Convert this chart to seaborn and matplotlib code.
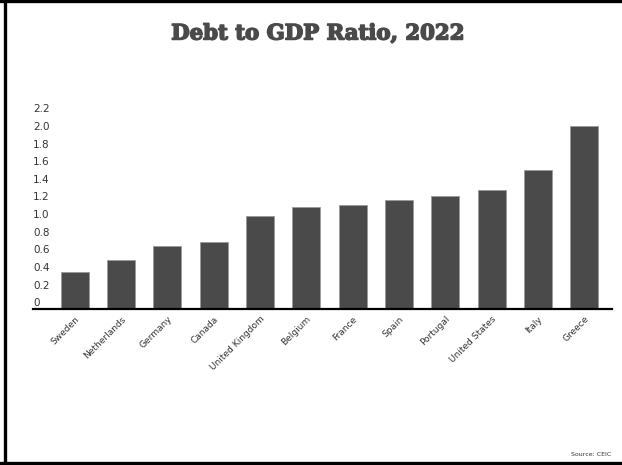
import pandas as pd
import matplotlib
matplotlib.use("Agg")
import matplotlib.pyplot as plt
import matplotlib.patheffects as pe
import seaborn as sns
from matplotlib.lines import Line2D

# data
countries = ['Sweden', 'Netherlands', 'Germany', 'Canada', 'United Kingdom', 'Belgium',
             'France', 'Spain', 'Portugal', 'United States', 'Italy', 'Greece']
ratios = [0.34, 0.48, 0.64, 0.68, 0.98, 1.08, 1.10, 1.16, 1.21, 1.27, 1.50, 2.00]
y_ticks = [0, 0.2, 0.4, 0.6, 0.8, 1.0, 1.2, 1.4, 1.6, 1.8, 2.0, 2.2]
y_labels = ['0', '0.2', '0.4', '0.6', '0.8', '1.0', '1.2', '1.4', '1.6', '1.8', '2.0', '2.2']

df = pd.DataFrame({'Country': countries, 'Ratio': ratios})

sns.set_theme(style="white")
plt.rcParams['font.family'] = ['DejaVu Sans']

fig = plt.figure(figsize=(6.22, 4.65), dpi=100)
ax = fig.add_axes([0.0531, 0.3355, 0.9309, 0.4507])

sns.barplot(data=df, x='Country', y='Ratio', color='#4a4a4a', saturation=1,
            width=0.6, edgecolor='#9a9a9a', linewidth=0.6, ax=ax)

# bars start at the baseline, which sits a little under zero
y_min = -0.076
ax.set_ylim(y_min, 2.3)
ax.set_xlim(-0.9, 11.6)
for p in ax.patches:
    top = p.get_y() + p.get_height()
    p.set_y(y_min)
    p.set_height(top - y_min)

ax.set_yticks(y_ticks)
ax.set_yticklabels(y_labels, fontsize=7.5, color='#333333')
for lab in ax.get_yticklabels():
    lab.set_horizontalalignment('left')
ax.tick_params(axis='y', length=0, pad=0)

ax.set_xticks(range(len(countries)))
ax.set_xticklabels(countries, rotation=45, ha='right', rotation_mode='anchor',
                   fontsize=6.5, color='#333333')
ax.tick_params(axis='x', length=0, pad=4)

ax.set_xlabel('')
ax.set_ylabel('')
ax.grid(False)
for s in ['top', 'right', 'left']:
    ax.spines[s].set_visible(False)
ax.spines['bottom'].set_color('black')
ax.spines['bottom'].set_linewidth(1.6)

fig.text(0.511, 0.928, 'Debt to GDP Ratio, 2022', ha='center', va='center',
         fontsize=15.3, fontweight='bold', family='DejaVu Serif', color='#4a4a4a',
         path_effects=[pe.withStroke(linewidth=1.1, foreground='#4a4a4a')])
fig.text(0.983, 0.022, 'Source: CEIC', ha='right', va='center', fontsize=4.5,
         color='#333333')

# frame around the picture (left, top, bottom)
fig.add_artist(Line2D([0.0088, 0.0088], [0, 1], color='black', lw=2.4,
                      transform=fig.transFigure))
fig.add_artist(Line2D([0, 1], [0.998, 0.998], color='black', lw=2.4,
                      transform=fig.transFigure))
fig.add_artist(Line2D([0, 1], [0.0035, 0.0035], color='black', lw=2.4,
                      transform=fig.transFigure))

fig.savefig('out.png', dpi=100)
